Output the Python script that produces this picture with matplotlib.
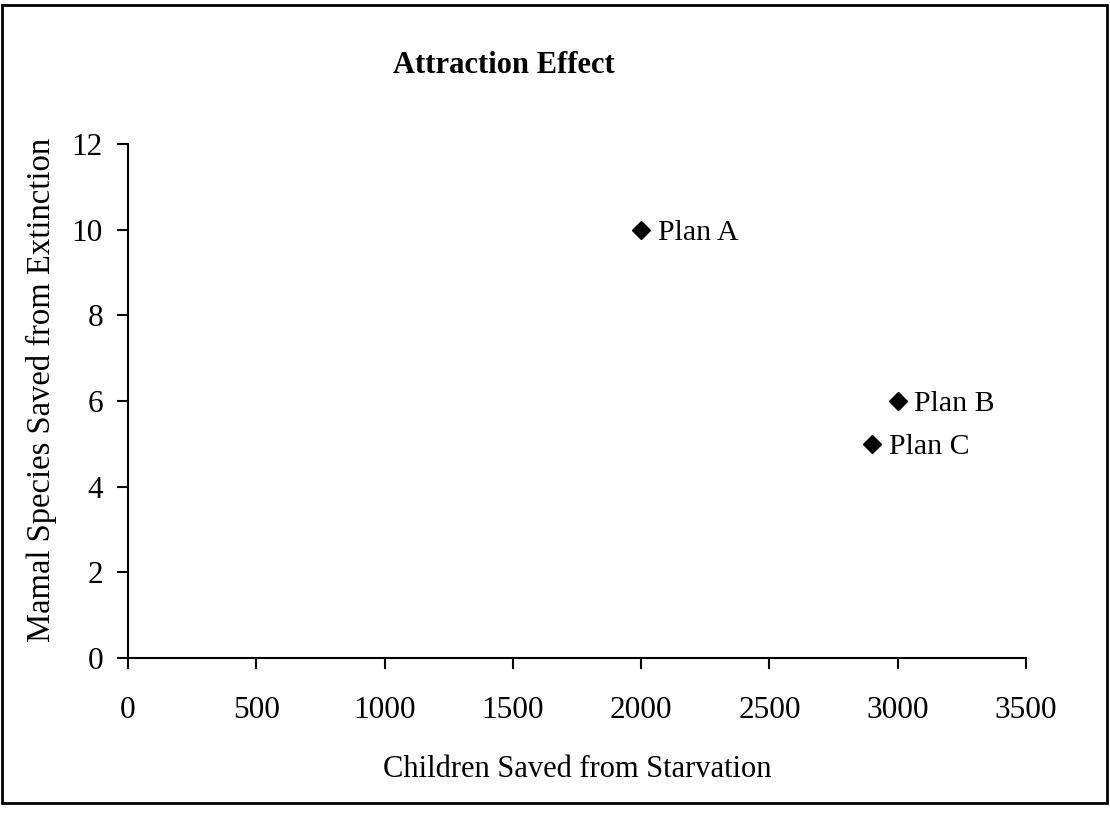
import matplotlib.pyplot as plt
from matplotlib.patches import Rectangle

# plan data
plans = ["Plan A", "Plan B", "Plan C"]
children = [2000, 3000, 2900]
species = [10, 6, 5]

plt.rcParams['font.family'] = ['Liberation Serif', 'DejaVu Serif']

W, H = 1110, 815
fig = plt.figure(figsize=(W / 100, H / 100), dpi=100)
ax = fig.add_axes([128 / W, 1 - 658 / H, (1026 - 128) / W, (658 - 144) / H])

ax.plot(children, species, 'D', color='black', markersize=9.5, linestyle='none', clip_on=False)
for name, x, y in zip(plans, children, species):
    ax.annotate(name, (x, y), xytext=(12, 0), textcoords='offset points',
                va='center_baseline', ha='left', fontsize=21.5)

ax.set_xlim(0, 3500)
ax.set_ylim(0, 12)
ax.set_xticks(range(0, 3501, 500))
ax.set_yticks(range(0, 13, 2))
ax.spines['top'].set_visible(False)
ax.spines['right'].set_visible(False)
ax.spines['left'].set_linewidth(1.5)
ax.spines['bottom'].set_linewidth(1.5)
ax.tick_params(direction='out', length=8, width=1.5, labelsize=22.5)
ax.tick_params(axis='y', pad=10)
ax.tick_params(axis='x', pad=19)

fig.text(577 / W, 1 - 777 / H, "Children Saved from Starvation", fontsize=22,
         ha='center', va='baseline')
fig.text(41 / W, 1 - 390 / H, "Mamal Species Saved from Extinction", fontsize=23.5,
         rotation=90, ha='center', va='center')
fig.text(393 / W, 1 - 73 / H, "Attraction Effect", fontsize=22, fontweight='bold',
         ha='left', va='baseline')

# chart border
fig.patches.append(Rectangle((2 / W, 1 - 803 / H), 1105 / W, 798 / H,
                             transform=fig.transFigure, fill=False,
                             edgecolor='black', linewidth=2))

fig.savefig('out.png', dpi=100)
